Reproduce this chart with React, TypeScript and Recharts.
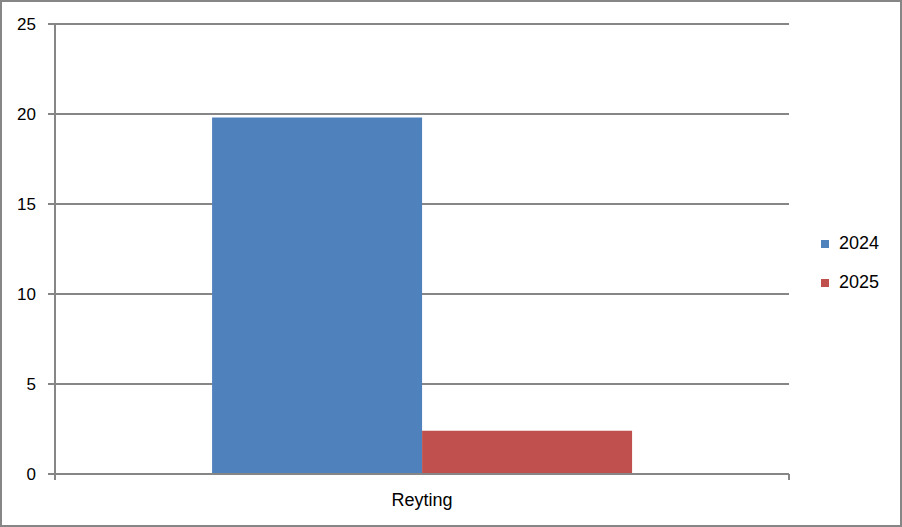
import React from 'react';
import { BarChart, Bar, XAxis, YAxis, CartesianGrid, Legend } from 'recharts';

const categories = ['Reyting'];
const series2024 = [19.8];
const series2025 = [2.4];
const yTicks = [0, 5, 10, 15, 20, 25];

const data = categories.map((c, i) => ({ name: c, y2024: series2024[i], y2025: series2025[i] }));

const GRAY = '#868686';
const FONT = '"Liberation Sans", Arial, sans-serif';

// category label plus the tick marks at both edges of the band
const CatTick = ({ x, y, payload }: any) => {
    const half = payload.offset || 0;
    const axisY = y - 19;
    return (
        <g>
            <line x1={x - half} x2={x - half} y1={axisY} y2={axisY + 6} stroke={GRAY} strokeWidth={2} />
            <line x1={x + half} x2={x + half} y1={axisY} y2={axisY + 6} stroke={GRAY} strokeWidth={2} />
            <text x={x} y={y} dy="0.71em" textAnchor="middle" fill="#000" fontSize={18} fontFamily={FONT}>{payload.value}</text>
        </g>
    );
};

const LegendBox = ({ payload }: any) => (
    <div style={{ fontFamily: FONT, fontSize: 18, color: '#000' }}>
        {payload.map((entry: any, idx: number) => (
            <div key={idx} style={{ display: 'flex', alignItems: 'center', height: 39 }}>
                <div style={{ width: 8, height: 8, background: entry.color, marginRight: 10 }} />
                {entry.value}
            </div>
        ))}
    </div>
);

export default function App() {
    return (
        <div style={{ position: 'absolute', left: 0, top: 0, width: 902, height: 527, background: '#fff', boxShadow: `inset 0 0 0 2px ${GRAY}` }}>
            <BarChart width={902} height={527} data={data} margin={{ top: 24, right: 33, left: 10, bottom: 23 }}
                barCategoryGap="21.4%" barGap={0}>
                <CartesianGrid vertical={false} stroke={GRAY} strokeWidth={2} />
                <XAxis dataKey="name" height={30} tickSize={0} tickMargin={19} tickLine={false}
                    axisLine={{ stroke: GRAY, strokeWidth: 2 }} tick={<CatTick />} />
                <YAxis width={45} domain={[0, 25]} ticks={yTicks} tickSize={7} tickMargin={12}
                    axisLine={{ stroke: GRAY, strokeWidth: 2 }} tickLine={{ stroke: GRAY, strokeWidth: 2 }}
                    tick={{ fill: '#000', fontSize: 17, fontFamily: FONT }} />
                <Legend layout="vertical" verticalAlign="top" align="right" content={<LegendBox />}
                    wrapperStyle={{ left: 821, top: 224, width: 80 }} />
                <Bar dataKey="y2024" name="2024" fill="#4F81BD" isAnimationActive={false} />
                <Bar dataKey="y2025" name="2025" fill="#C0504D" isAnimationActive={false} />
            </BarChart>
        </div>
    );
}
